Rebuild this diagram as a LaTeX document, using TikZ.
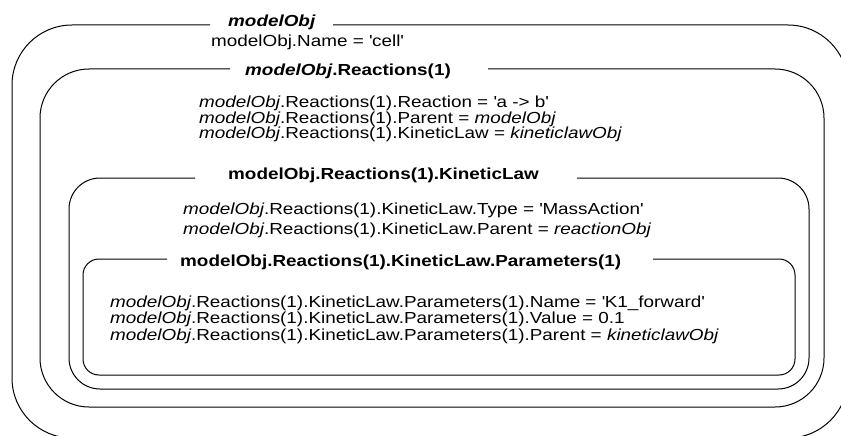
\documentclass[tikz,border=0pt]{standalone}
\usepackage{fontspec}
\setmainfont{Liberation Sans}[FakeStretch=1.18]
\newcommand{\sq}{\textquotesingle}
\begin{document}
\begin{tikzpicture}[x=1pt,y=-1pt,
  boxline/.style={line width=1pt, draw=black, rounded corners=#1},
  txt/.style={anchor=base west, inner sep=0pt, font=\fontsize{16}{18}\selectfont},
  ttl/.style={anchor=base west, inner sep=0pt, font=\fontsize{16}{18}\selectfont\bfseries}]
\useasboundingbox (0,0) rectangle (841,436);
\clip (0,0) rectangle (841,436);
% boxes (open at the title)
\draw[boxline=60] (333,25) -- (848,25) -- (848,438) -- (12,438) -- (12,25) -- (210,25);
\draw[boxline=49] (488,69) -- (824,69) -- (824,407) -- (40,407) -- (40,69) -- (230,69);
\draw[boxline=31] (577,178) -- (809,178) -- (809,389) -- (69,389) -- (69,178) -- (195,178);
\draw[boxline=16] (653,259) -- (795,259) -- (795,375) -- (83,375) -- (83,259) -- (167,259);
% level 1
\node[ttl] (t0) at (228,27) {\itshape modelObj};
\node[txt] (n0) at (211,47) {modelObj.Name = \sq cell\sq};
% level 2
\node[ttl] (t1) at (245,75) {\textit{modelObj}.Reactions(1)};
\node[txt] (r1) at (199,107) {\textit{modelObj}.Reactions(1).Reaction = \sq a -> b\sq};
\node[txt] (r2) at (199,123) {\textit{modelObj}.Reactions(1).Parent = \textit{modelObj}};
\node[txt] (r3) at (199,139) {\textit{modelObj}.Reactions(1).KineticLaw = \textit{kineticlawObj}};
% level 3
\node[ttl] (t2) at (228,179) {modelObj.Reactions(1).KineticLaw};
\node[txt] (k1) at (183,214) {\textit{modelObj}.Reactions(1).KineticLaw.Type = \sq MassAction\sq};
\node[txt] (k2) at (183,234) {\textit{modelObj}.Reactions(1).KineticLaw.Parent = \textit{reactionObj}};
% level 4
\node[ttl] (t3) at (180,266) {modelObj.Reactions(1).KineticLaw.Parameters(1)};
\node[txt] (p1) at (110,307) {\textit{modelObj}.Reactions(1).KineticLaw.Parameters(1).Name = \sq K1\_forward\sq};
\node[txt] (p2) at (110,323) {\textit{modelObj}.Reactions(1).KineticLaw.Parameters(1).Value = 0.1};
\node[txt] (p3) at (110,340) {\textit{modelObj}.Reactions(1).KineticLaw.Parameters(1).Parent = \textit{kineticlawObj}};
\end{tikzpicture}
\end{document}
